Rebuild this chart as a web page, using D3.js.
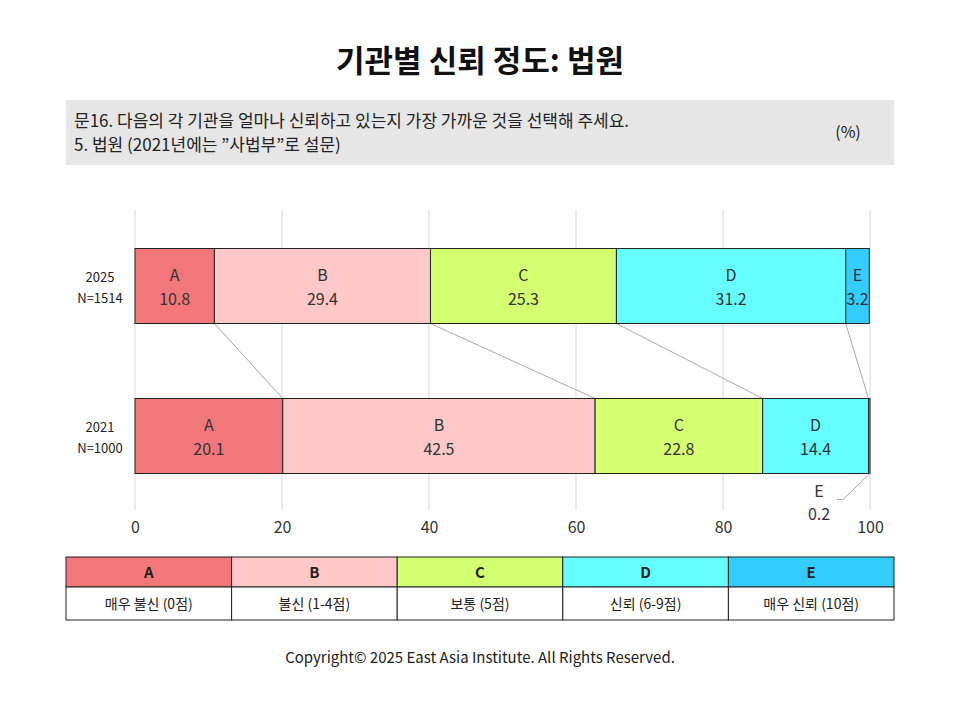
<!DOCTYPE html>
<html><head><meta charset="utf-8">
<script src="https://cdn.jsdelivr.net/npm/d3@7"></script>
<style>body{margin:0;background:#fff;font-family:"Noto Sans CJK KR","Noto Sans",sans-serif;}</style>
</head><body><div id="chart"></div>
<script>
// data
var years = ["2025", "2021"];
var sampleN = ["N=1514", "N=1000"];
var categories = ["A", "B", "C", "D", "E"];
var catLabels = ["매우 불신 (0점)", "불신 (1-4점)", "보통 (5점)", "신뢰 (6-9점)", "매우 신뢰 (10점)"];
var values2025 = [10.8, 29.4, 25.3, 31.2, 3.2];
var values2021 = [20.1, 42.5, 22.8, 14.4, 0.2];
var xTicks = [0, 20, 40, 60, 80, 100];
var colors = ["#f2777a", "#ffc8c8", "#d4ff70", "#66ffff", "#33ccff"];

var svg = d3.select("#chart").append("svg").attr("width", 960).attr("height", 720);
var font = "'Noto Sans CJK KR', 'Noto Sans', sans-serif";

svg.append("text").attr("x", 480).attr("y", 72).attr("text-anchor", "middle")
  .attr("font-size", 31).attr("font-weight", "bold").attr("fill", "#111").text("기관별 신뢰 정도: 법원");

svg.append("rect").attr("x", 66).attr("y", 100).attr("width", 828).attr("height", 65).attr("fill", "#e6e6e6");
svg.append("text").attr("x", 74).attr("y", 127).attr("font-size", 17).attr("fill", "#222")
  .text("문16. 다음의 각 기관을 얼마나 신뢰하고 있는지 가장 가까운 것을 선택해 주세요.");
svg.append("text").attr("x", 74).attr("y", 151).attr("font-size", 17).attr("fill", "#222")
  .text("5. 법원 (2021년에는 \u201D사법부\u201D로 설문)");
svg.append("text").attr("x", 848).attr("y", 138).attr("text-anchor", "middle").attr("font-size", 16).attr("fill", "#222").text("(%)");

var x = d3.scaleLinear().domain([0, 100]).range([135, 870]);
var y = d3.scaleBand().domain(years).range([211, 511]).paddingInner(0.5).paddingOuter(0.25);

// gridlines
svg.append("g").selectAll("line").data(xTicks).enter().append("line")
  .attr("x1", d => x(d)).attr("x2", d => x(d)).attr("y1", 210).attr("y2", 510)
  .attr("stroke", "#d9d9d9").attr("stroke-width", 1);

// axis labels
svg.append("g").attr("transform", "translate(0,510)")
  .call(d3.axisBottom(x).tickValues(xTicks).tickSize(0).tickPadding(12))
  .call(g => g.select(".domain").remove())
  .call(g => g.selectAll("text").attr("font-size", 16).attr("fill", "#333").attr("font-family", font));

var allData = [values2025, values2021];
var stacks = allData.map(function(vals) {
  var c = 0;
  return vals.map(function(v, i) { var s = c; c += v; return {cat: categories[i], v: v, x0: s, x1: c, i: i}; });
});

// connectors
var topStack = stacks[0], botStack = stacks[1];
for (var i = 0; i < 4; i++) {
  svg.append("line").attr("x1", x(topStack[i].x1)).attr("y1", y("2025") + y.bandwidth())
    .attr("x2", x(botStack[i].x1)).attr("y2", y("2021")).attr("stroke", "#aaa").attr("stroke-width", 1);
}

stacks.forEach(function(st, k) {
  var yr = years[k];
  var g = svg.append("g");
  g.selectAll("rect").data(st).enter().append("rect")
    .attr("x", d => x(d.x0)).attr("y", y(yr)).attr("width", d => x(d.x1) - x(d.x0)).attr("height", y.bandwidth())
    .attr("fill", d => colors[d.i]).attr("stroke", "#222").attr("stroke-width", 1);
  st.forEach(function(d) {
    if (d.v < 1) return;
    var cx = (x(d.x0) + x(d.x1)) / 2;
    g.append("text").attr("x", cx).attr("y", y(yr) + 32).attr("text-anchor", "middle").attr("font-size", 16).attr("fill", "#333").text(d.cat);
    g.append("text").attr("x", cx).attr("y", y(yr) + 56).attr("text-anchor", "middle").attr("font-size", 16).attr("fill", "#333").text(d.v.toFixed(1));
  });
  svg.append("text").attr("x", 100).attr("y", y(yr) + 33).attr("text-anchor", "middle").attr("font-size", 13).attr("fill", "#222").text(yr);
  svg.append("text").attr("x", 100).attr("y", y(yr) + 54).attr("text-anchor", "middle").attr("font-size", 13).attr("fill", "#222").text(sampleN[k]);
});

// small E label for 2021
var eb = y("2021") + y.bandwidth();
svg.append("polyline").attr("points", [[x(100), eb], [x(100) - 27, eb + 26], [x(100) - 33, eb + 26]].join(" "))
  .attr("fill", "none").attr("stroke", "#aaa");
svg.append("text").attr("x", 819).attr("y", eb + 23).attr("text-anchor", "middle").attr("font-size", 16).attr("fill", "#333").text("E");
svg.append("text").attr("x", 819).attr("y", eb + 46).attr("text-anchor", "middle").attr("font-size", 16).attr("fill", "#333").text(values2021[4].toFixed(1));

// legend table
var lx = d3.scaleBand().domain(categories).range([66, 894]);
var lg = svg.append("g");
lg.selectAll("rect.h").data(categories).enter().append("rect").attr("class", "h")
  .attr("x", d => lx(d)).attr("y", 557).attr("width", lx.bandwidth()).attr("height", 30)
  .attr("fill", (d, i) => colors[i]).attr("stroke", "#222");
lg.selectAll("rect.l").data(categories).enter().append("rect").attr("class", "l")
  .attr("x", d => lx(d)).attr("y", 587).attr("width", lx.bandwidth()).attr("height", 33)
  .attr("fill", "#fff").attr("stroke", "#222");
lg.selectAll("text.h").data(categories).enter().append("text").attr("class", "h")
  .attr("x", d => lx(d) + lx.bandwidth() / 2).attr("y", 578).attr("text-anchor", "middle")
  .attr("font-size", 15).attr("font-weight", "600").attr("fill", "#222").text(d => d);
lg.selectAll("text.l").data(catLabels).enter().append("text").attr("class", "l")
  .attr("x", (d, i) => lx(categories[i]) + lx.bandwidth() / 2).attr("y", 609).attr("text-anchor", "middle")
  .attr("font-size", 14).attr("fill", "#222").text(d => d);

svg.append("text").attr("x", 480).attr("y", 663).attr("text-anchor", "middle").attr("font-size", 15).attr("fill", "#222")
  .text("Copyright\u00A9 2025 East Asia Institute. All Rights Reserved.");
</script></body></html>
